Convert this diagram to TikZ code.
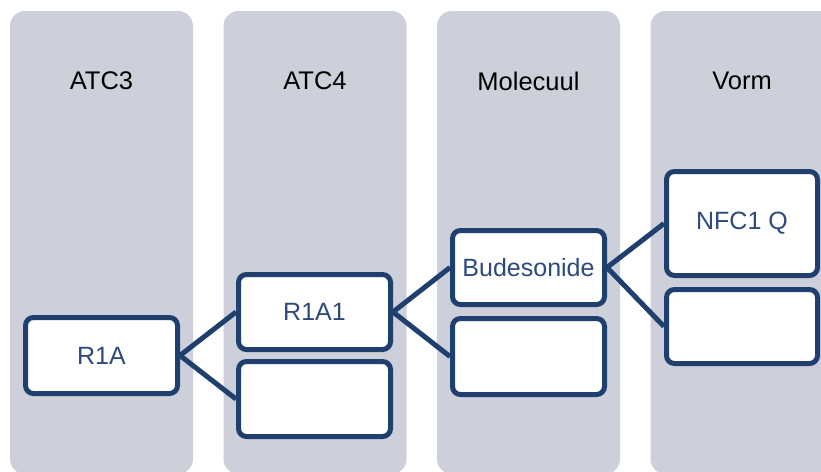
\documentclass[tikz,border=0pt]{standalone}
\usepackage{fontspec}
\setmainfont{Liberation Sans}
\definecolor{colgray}{HTML}{CDD0DA}
\definecolor{navy}{HTML}{1F3F6E}
\definecolor{boxtext}{HTML}{2C4A7C}
\begin{document}
\begin{tikzpicture}[x=1pt,y=-1pt,
  column/.style={fill=colgray, rounded corners=15pt},
  header/.style={font=\fontsize{25.5}{30}\selectfont, text=black},
  item/.style={draw=navy, line width=5pt, rounded corners=8pt, fill=white,
    text=boxtext, font=\fontsize{25}{30}\selectfont, inner sep=0pt,
    minimum width=152pt, minimum height=76pt},
  link/.style={draw=navy, line width=5pt}]
\useasboundingbox (0,0) rectangle (821,471);
\begin{scope}
\clip (0,0) rectangle (821,471);
% four grey columns
\foreach \i/\x in {1/10, 2/223.5, 3/437, 4/650.5}
  \fill[column] (\x,11) rectangle ++(183,463);
\end{scope}
% column headings
\node[header] (h1) at (101.5,81) {ATC3};
\node[header] (h2) at (315,81) {ATC4};
\node[header] (h3) at (528.5,81) {Molecuul};
\node[header] (h4) at (742,81) {Vorm};
% boxes
\node[item] (r1a) at (101.5,355.5) {R1A};
\node[item, minimum height=75pt] (r1a1) at (314.5,312) {R1A1};
\node[item, minimum height=75pt] (e1) at (314.5,399) {};
\node[item, minimum height=74pt] (bud) at (528.5,267.5) {Budesonide};
\node[item] (e2) at (528.5,356.5) {};
\node[item, minimum width=151pt, minimum height=104pt] (nfc) at (742,223.5) {NFC1 Q};
\node[item, minimum width=151pt, minimum height=74pt] (e3) at (742,326.5) {};
% connectors
\draw[link] (r1a.east) -- (r1a1.west);
\draw[link] (r1a.east) -- (e1.west);
\draw[link] (r1a1.east) -- (bud.west);
\draw[link] (r1a1.east) -- (e2.west);
\draw[link] (bud.east) -- (nfc.west);
\draw[link] (bud.east) -- (e3.west);
\end{tikzpicture}
\end{document}
